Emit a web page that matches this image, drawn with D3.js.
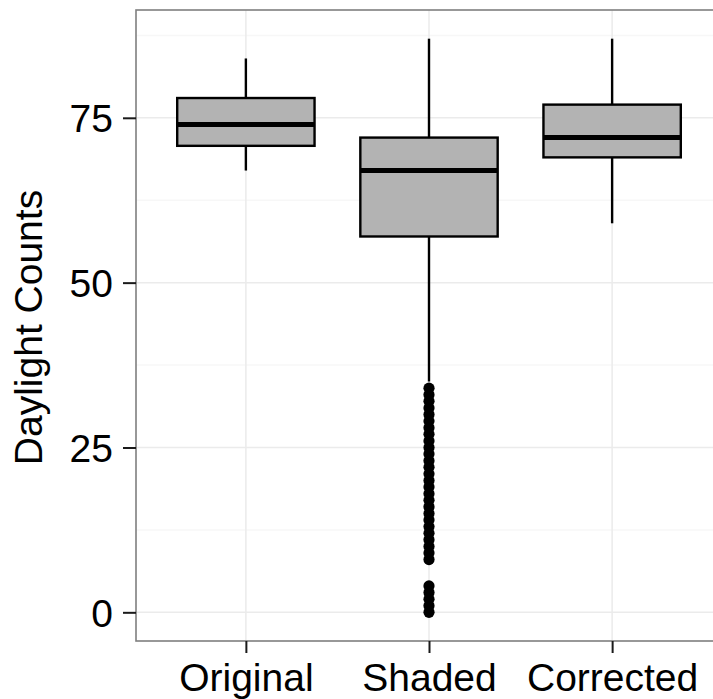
<!DOCTYPE html>
<html>
<head>
<meta charset="utf-8">
<script src="https://cdn.jsdelivr.net/npm/d3@7"></script>
<style>
  html, body { margin: 0; padding: 0; background: #fff; }
  svg { display: block; font-family: "Liberation Sans", Arial, sans-serif; }
</style>
</head>
<body>
<svg id="chart" width="713" height="699"></svg>
<script>
// Box summaries for each image version
const categories  = ["Original", "Shaded", "Corrected"];
const whiskerLow  = [67, 35, 59];
const q1          = [70.75, 57, 69];
const median      = [74, 67, 72];
const q3          = [78, 72, 77];
const whiskerHigh = [84, 87, 87];

// Points beyond the whiskers (Shaded only)
const shadedOutliers = [0, 1, 2, 3, 4, 8, 9, 10, 11, 12, 13, 14, 15, 16, 17, 18, 19, 20,
  21, 22, 23, 24, 25, 26, 27, 28, 29, 30, 31, 32, 33, 34];

const yTicks = [0, 25, 50, 75];
const yMinorTicks = [12.5, 37.5, 62.5, 87.5];
const yTitle = "Daylight Counts";

const boxes = categories.map((c, i) => ({
  cat: c, lo: whiskerLow[i], q1: q1[i], med: median[i], q3: q3[i], hi: whiskerHigh[i]
}));

const svg = d3.select("#chart");
const panel = { left: 136, right: 722, top: 10, bottom: 641 };

const x = d3.scalePoint().domain(categories)
  .range([panel.left, panel.right]).padding(0.6);
const step = x.step();
const boxW = step * 0.75;

const y = d3.scaleLinear().domain([-4.35, 91.35]).range([panel.bottom, panel.top]);

// grid
const g = svg.append("g");
g.selectAll(".minor").data(yMinorTicks).join("line")
  .attr("x1", panel.left).attr("x2", panel.right)
  .attr("y1", d => y(d)).attr("y2", d => y(d))
  .attr("stroke", "#f7f7f7").attr("stroke-width", 1.5);
g.selectAll(".majorY").data(yTicks).join("line")
  .attr("x1", panel.left).attr("x2", panel.right)
  .attr("y1", d => y(d)).attr("y2", d => y(d))
  .attr("stroke", "#ebebeb").attr("stroke-width", 1.5);
g.selectAll(".majorX").data(categories).join("line")
  .attr("x1", d => x(d)).attr("x2", d => x(d))
  .attr("y1", panel.top).attr("y2", panel.bottom)
  .attr("stroke", "#ebebeb").attr("stroke-width", 1.5);

// whiskers
const bx = svg.append("g");
bx.selectAll(".wu").data(boxes).join("line")
  .attr("x1", d => x(d.cat)).attr("x2", d => x(d.cat))
  .attr("y1", d => y(d.q3)).attr("y2", d => y(d.hi))
  .attr("stroke", "#000").attr("stroke-width", 2.4);
bx.selectAll(".wl").data(boxes).join("line")
  .attr("x1", d => x(d.cat)).attr("x2", d => x(d.cat))
  .attr("y1", d => y(d.q1)).attr("y2", d => y(d.lo))
  .attr("stroke", "#000").attr("stroke-width", 2.4);

// boxes
bx.selectAll("rect").data(boxes).join("rect")
  .attr("x", d => x(d.cat) - boxW / 2).attr("width", boxW)
  .attr("y", d => y(d.q3)).attr("height", d => y(d.q1) - y(d.q3))
  .attr("fill", "#b3b3b3").attr("stroke", "#000").attr("stroke-width", 2.4);

// medians
bx.selectAll(".med").data(boxes).join("line")
  .attr("x1", d => x(d.cat) - boxW / 2).attr("x2", d => x(d.cat) + boxW / 2)
  .attr("y1", d => y(d.med)).attr("y2", d => y(d.med))
  .attr("stroke", "#000").attr("stroke-width", 5);

// outliers
bx.selectAll("circle").data(shadedOutliers).join("circle")
  .attr("cx", x("Shaded")).attr("cy", d => y(d)).attr("r", 5.6)
  .attr("fill", "#000");

// panel border
svg.append("rect")
  .attr("x", panel.left).attr("y", panel.top)
  .attr("width", panel.right - panel.left).attr("height", panel.bottom - panel.top)
  .attr("fill", "none").attr("stroke", "#7f7f7f").attr("stroke-width", 1.6);

// y axis
const yAxis = svg.append("g")
  .attr("transform", `translate(${panel.left},0)`)
  .call(d3.axisLeft(y).tickValues(yTicks).tickSize(13).tickPadding(10).tickFormat(d3.format("d")));
yAxis.select(".domain").remove();
yAxis.selectAll(".tick line").attr("stroke", "#1a1a1a").attr("stroke-width", 2);
yAxis.selectAll(".tick text").attr("fill", "#000").attr("font-size", 39)
  .attr("font-family", "Liberation Sans, Arial, sans-serif").attr("dy", "0.36em");

// x axis
const xAxis = svg.append("g")
  .attr("transform", `translate(0,${panel.bottom})`)
  .call(d3.axisBottom(x).tickSize(12).tickPadding(10));
xAxis.select(".domain").remove();
xAxis.selectAll(".tick line").attr("stroke", "#1a1a1a").attr("stroke-width", 2);
xAxis.selectAll(".tick text").attr("fill", "#000").attr("font-size", 39)
  .attr("font-family", "Liberation Sans, Arial, sans-serif").attr("dy", "0.71em");

// y title
svg.append("text")
  .attr("transform", `translate(42,${(panel.top + panel.bottom) / 2 + 2}) rotate(-90)`)
  .attr("text-anchor", "middle")
  .attr("font-size", 39).attr("fill", "#000")
  .text(yTitle);
</script>
</body>
</html>
